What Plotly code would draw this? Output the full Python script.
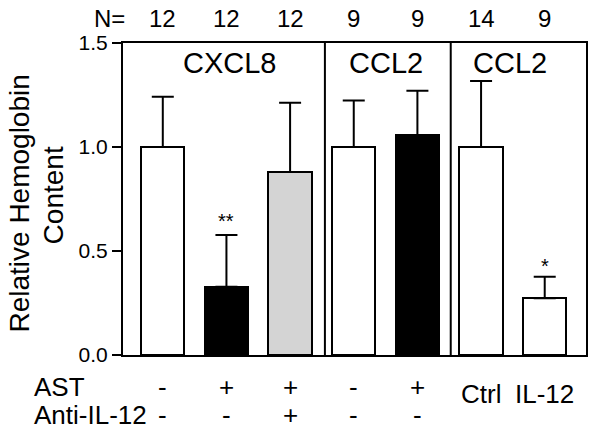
import plotly.graph_objects as go

# ---- data ----
n_labels = ["12", "12", "12", "9", "9", "14", "9"]
values = [1.0, 0.328, 0.88, 1.0, 1.058, 1.0, 0.273]
errors = [0.242, 0.249, 0.333, 0.223, 0.213, 0.317, 0.103]
ast_labels = ["-", "+", "+", "-", "+", "Ctrl", "IL-12"]
anti_labels = ["-", "-", "+", "-", "-", "", ""]
sig_labels = ["", "**", "", "", "", "", "*"]
panel_labels = ["CXCL8", "CCL2", "CCL2"]
panel_centers = [1.05, 3.5, 5.45]

# ---- style ----
bar_colors = ["white", "black", "#d4d4d4", "white", "black", "white", "white"]
FONT = "Liberation Sans, Arial, Helvetica, sans-serif"
W, H = 600, 435
L, R, T, B = 123, 588.5, 43, 355  # plot area in px
X0, DX = 163, 64  # first bar centre and spacing in px

def px2x(px):
    return (px - X0) / DX

def px2paper(px):
    return (px - L) / (R - L)

def py2paper(py):
    return (B - py) / (B - T)

xs = list(range(len(values)))

fig = go.Figure()
fig.add_trace(go.Bar(
    x=xs, y=values, width=0.68,
    marker=dict(color=bar_colors, line=dict(color="black", width=2)),
    error_y=dict(type="data", array=errors, arrayminus=[0] * len(errors),
                 symmetric=False, color="black", thickness=2, width=11),
    showlegend=False, hoverinfo="skip",
))

ann = []
# N row
ann.append(dict(x=px2paper(109), y=py2paper(18.5), xref="paper", yref="paper", text="N=",
                showarrow=False, font=dict(size=24), xanchor="center", yanchor="middle"))
for i, n in enumerate(n_labels):
    ann.append(dict(x=i, y=py2paper(18.5), xref="x", yref="paper", text=n,
                    showarrow=False, font=dict(size=24), xanchor="center", yanchor="middle"))
# panel labels
for c, t in zip(panel_centers, panel_labels):
    ann.append(dict(x=c, y=1.404, xref="x", yref="y", text=t, showarrow=False,
                    font=dict(size=29), xanchor="center", yanchor="middle"))
# significance
for i, s in enumerate(sig_labels):
    if s:
        ann.append(dict(x=i, y=values[i] + errors[i], xref="x", yref="y", text=s,
                        showarrow=False, font=dict(size=20), xanchor="center",
                        yanchor="bottom", yshift=1 if s == "**" else -2))
# bottom rows
ann.append(dict(x=px2paper(32), y=py2paper(386.5), xref="paper", yref="paper", text="AST",
                showarrow=False, font=dict(size=26), xanchor="left", yanchor="middle"))
ann.append(dict(x=px2paper(32), y=py2paper(415), xref="paper", yref="paper", text="Anti-IL-12",
                showarrow=False, font=dict(size=26), xanchor="left", yanchor="middle"))
for i, t in enumerate(ast_labels):
    yy = 386.5 if t in "+-" else 394
    ann.append(dict(x=i, y=py2paper(yy), xref="x", yref="paper", text=t,
                    showarrow=False, font=dict(size=26), xanchor="center", yanchor="middle"))
for i, t in enumerate(anti_labels):
    if t:
        ann.append(dict(x=i, y=py2paper(415), xref="x", yref="paper", text=t,
                        showarrow=False, font=dict(size=26), xanchor="center", yanchor="middle"))
# y title
ann.append(dict(x=px2paper(19), y=py2paper(204), xref="paper", yref="paper", text="Relative Hemoglobin",
                showarrow=False, font=dict(size=28), textangle=-90,
                xanchor="center", yanchor="middle"))
ann.append(dict(x=px2paper(53), y=py2paper(195), xref="paper", yref="paper", text="Content",
                showarrow=False, font=dict(size=28), textangle=-90,
                xanchor="center", yanchor="middle"))

shapes = []
for dpx in (326, 452.5):
    shapes.append(dict(type="line", xref="x", yref="paper", x0=px2x(dpx), x1=px2x(dpx),
                       y0=0, y1=1, line=dict(color="black", width=2)))

fig.update_layout(
    width=W, height=H, autosize=False,
    margin=dict(l=L, r=W - R, t=T, b=H - B, pad=0),
    plot_bgcolor="white", paper_bgcolor="white",
    font=dict(family=FONT, color="black"),
    annotations=ann, shapes=shapes, bargap=0, hovermode=False,
    xaxis=dict(range=[px2x(L), px2x(R)], showline=True, mirror=True, linecolor="black",
               linewidth=2, showticklabels=False, ticks="", showgrid=False, zeroline=False),
    yaxis=dict(range=[0, 1.5], tickvals=[0, 0.5, 1.0, 1.5], ticktext=["0.0", "0.5", "1.0", "1.5"],
               showline=True, mirror=True, linecolor="black", linewidth=2,
               ticks="outside", ticklen=9, tickwidth=2, tickcolor="black",
               tickfont=dict(size=21), showgrid=False, zeroline=False),
)

fig.write_html("out.html", config={"responsive": False, "displayModeBar": False},
               post_script="document.body.style.margin='0';document.body.style.overflow='hidden';")
